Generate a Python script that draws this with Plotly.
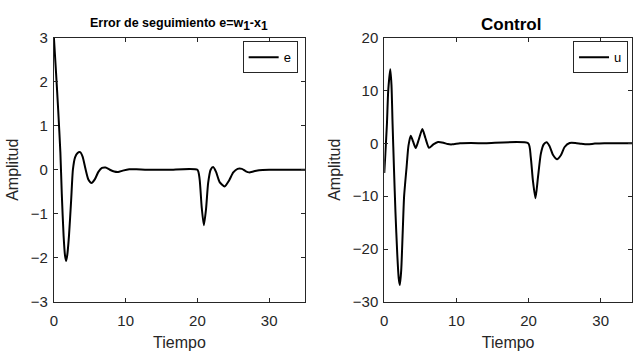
import plotly.graph_objects as go

# Error de seguimiento e = w1 - x1
t_e = [0, 0.3, 0.6, 0.9, 1.1, 1.35, 1.55, 1.7, 1.85, 2.1, 2.4, 2.65, 2.95, 3.3, 3.65,
       4.0, 4.4, 4.8, 5.25, 5.7, 6.2, 6.7, 7.2, 7.8, 8.4, 8.95, 9.6, 10.5, 11.5, 13, 16, 20.0,
       20.3, 20.6, 20.9, 21.2, 21.5, 21.85, 22.2, 22.6, 23.1, 23.8, 24.4, 25.0, 25.6, 26.2,
       26.7, 27.2, 27.8, 28.6, 30, 33, 35]
e_vals = [3.0, 2.2, 1.35, 0.4, -0.55, -1.5, -1.95, -2.07, -1.95, -1.5, -0.7, 0.0, 0.28, 0.38, 0.40,
          0.3, 0.02, -0.22, -0.30, -0.22, -0.05, 0.04, 0.05, 0.0, -0.04, -0.05, -0.02, 0.01, 0.01, 0.0, 0.0, 0.0,
          -0.2, -0.85, -1.26, -0.9, -0.3, 0.0, 0.06, -0.05, -0.28, -0.38, -0.25, -0.06, 0.02, 0.02,
          -0.03, -0.06, -0.04, -0.01, 0.0, 0.0, 0.0]

# Control u
t_u = [0, 0.15, 0.37, 0.55, 0.83, 1.0, 1.15, 1.35, 1.55, 1.8, 2.0, 2.16, 2.35, 2.55, 2.75,
       3.1, 3.35, 3.67, 4.0, 4.36, 4.8, 5.28, 5.7, 6.2, 6.8, 7.45, 8.2, 8.8, 9.4, 10.5, 12, 14, 19.95,
       20.3, 20.6, 20.96, 21.3, 21.7, 22.1, 22.5, 22.9, 23.4, 23.95, 24.5, 25.0, 25.7, 26.5,
       27.3, 28.2, 29.2, 30.5, 35]
u_vals = [-5.6, -2.0, 3.7, 10.0, 14.0, 11.0, 3.7, -5.0, -13.0, -21.0, -25.5, -26.8, -24.0, -17.0, -10.0,
          -4.4, -0.5, 1.45, 0.3, -0.9, 0.8, 2.7, 1.0, -0.85, -0.2, 0.25, 0.1, -0.15, -0.2, 0.0, 0.05, 0.0, 0.0,
          -2.5, -7.0, -10.4, -6.5, -2.0, -0.2, 0.2, -0.5, -2.2, -3.0, -2.2, -0.7, 0.05, 0.05,
          -0.1, -0.2, -0.05, 0.02, 0.0]

left_ticks_y = [-3, -2, -1, 0, 1, 2, 3]
right_ticks_y = [-30, -20, -10, 0, 10, 20]
ticks_x = [0, 10, 20, 30]

W, H = 633, 358
AX = "#262626"
FONT = "Liberation Sans, Arial, Helvetica, sans-serif"

fig = go.Figure()
fig.add_trace(go.Scatter(x=t_e, y=e_vals, mode="lines", name="e",
                         line=dict(color="black", width=2, shape="spline", smoothing=0.6),
                         xaxis="x", yaxis="y", legend="legend"))
fig.add_trace(go.Scatter(x=t_u, y=u_vals, mode="lines", name="u",
                         line=dict(color="black", width=2, shape="spline", smoothing=0.6),
                         xaxis="x2", yaxis="y2", legend="legend2"))

def px_x(p):
    return p / W

def px_y(p):
    return 1 - p / H

L0, L1 = 50.3, 303.4
R0, R1 = 383.3, 637.8
T, B = 30.0, 307.5

axis_common = dict(showline=True, linecolor=AX, linewidth=1, mirror="ticks",
                   ticks="inside", ticklen=4, tickcolor=AX, tickwidth=1,
                   showgrid=False, zeroline=False,
                   tickfont=dict(family=FONT, size=15, color=AX))

r_max = 35 * (W - R0) / (R1 - R0)

xt = dict(text="Tiempo", font=dict(size=16, color=AX), standoff=8)
yt = dict(text="Amplitud", font=dict(size=16, color=AX), standoff=8)

fig.update_layout(
    width=W, height=H,
    margin=dict(l=0, r=0, t=0, b=0),
    paper_bgcolor="white", plot_bgcolor="white",
    font=dict(family=FONT, color=AX),
    xaxis=dict(domain=[px_x(L0), px_x(L1)], range=[0, 35], tickvals=ticks_x, anchor="y",
               ticklabelstandoff=5, title=xt, **axis_common),
    yaxis=dict(domain=[px_y(B), px_y(T)], range=[-3, 3], tickvals=left_ticks_y, anchor="x",
               ticklabelstandoff=2, title=yt, **axis_common),
    xaxis2=dict(domain=[px_x(R0), 1.0], range=[0, r_max], tickvals=ticks_x, anchor="y2",
                ticklabelstandoff=5, title=xt, **axis_common),
    yaxis2=dict(domain=[px_y(B), px_y(T)], range=[-30, 20], tickvals=right_ticks_y, anchor="x2",
                ticklabelstandoff=2, title=yt, **axis_common),
    legend=dict(x=px_x(296), y=px_y(34), xanchor="right", yanchor="top",
                bordercolor=AX, borderwidth=1, bgcolor="white",
                font=dict(family=FONT, size=13, color="black"),
                itemwidth=30, tracegroupgap=0),
    legend2=dict(x=px_x(629), y=px_y(34), xanchor="right", yanchor="top",
                 bordercolor=AX, borderwidth=1, bgcolor="white",
                 font=dict(family=FONT, size=13, color="black"),
                 itemwidth=30, tracegroupgap=0),
    showlegend=True,
    annotations=[
        dict(text="<b>Error de seguimiento e=w<sub><span style='font-size:12px'>1</span></sub>"
                  "-x<sub><span style='font-size:12px'>1</span></sub></b>",
             x=(L0 + L1) / 2 / W, y=px_y(16), xref="paper", yref="paper", showarrow=False,
             font=dict(family=FONT, size=12.5, color="black"), xanchor="center", yanchor="middle"),
        dict(text="<b>Control</b>", x=(R0 + R1) / 2 / W, y=px_y(16), xref="paper", yref="paper",
             showarrow=False, font=dict(family=FONT, size=17, color="black"),
             xanchor="center", yanchor="middle"),
    ],
)

fig.write_html("out.html")
